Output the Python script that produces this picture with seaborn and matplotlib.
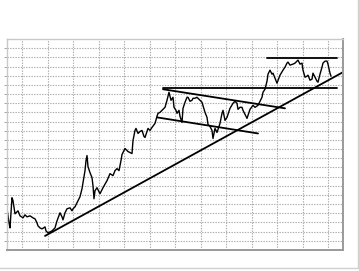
import numpy as np
import pandas as pd
import seaborn as sns
import matplotlib
matplotlib.use("Agg")
import matplotlib.pyplot as plt
from matplotlib.lines import Line2D

# ---- data ----
day = [0,2,3,5,6,8,11,13,16,18,
       20,23,26,28,30,31,33,35,38,39,
       41,43,45,48,50,53,55,56,58,60,
       63,65,66,68,70,71,73,75,76,78,
       79,80,81,83,85,86,87,88,90,93,
       95,96,100,103,106,108,110,112,114,115,
       118,120,121,123,125,126,128,129,131,133,
       135,137,138,141,143,145,148,150,151,153,
       155,158,160,162,164,166,167,169,170,172,
       173,175,176,178,180,181,183,185,186,188,
       190,191,193,195,198,200,201,203,205,206,
       208,210,213,215,216,218,220,223,226,228,
       230,231,233,235,236,238,240,243,246,248,
       251,253,255,256,258,260,261,263,265,266,
       268,270,273,276,278,280,281,283,286,288,
       290,291,293,295,296,298,300,301,303,305,
       306,308,310,311,313,315,316,318,320,321,
       323,324]
price = [41,27,22,52,49,36,39,34,32,35,
         33,34,32,31,27,24,22,21,23,19,
         17,18,19,22,29,37,33,30,37,41,
         42,39,41,43,47,49,53,61,67,79,
         89,94,83,77,72,64,51,59,62,56,
         60,62,69,76,74,79,81,79,89,95,
         101,99,98,97,96,109,119,121,116,118,
         119,113,112,121,119,122,126,133,136,137,
         139,142,149,157,149,152,142,139,136,139,
         133,127,141,147,152,152,148,149,151,151,
         152,151,149,147,137,132,125,123,119,111,
         121,117,126,136,139,129,132,141,146,148,
         146,140,142,142,139,135,131,140,144,142,
         144,148,152,157,160,168,175,179,175,176,
         171,166,174,179,182,186,187,184,185,186,
         188,189,185,186,179,172,173,174,169,170,
         176,172,168,167,175,182,186,188,188,185,
         176,173]

# trend lines (start/end day, start/end price)
trend_day = [[38, 336], [260, 330], [156, 330], [156, 278], [150, 251]]
trend_price = [[14, 177], [191, 191], [161, 161], [160, 141], [132, 116]]

df = pd.DataFrame({"day": day, "price": price})

sns.set_style("white")
fig = plt.figure(figsize=(3.59, 2.71), dpi=100)
ax = fig.add_axes([7/359, 21/271, 336/359, 211/271])

sns.lineplot(data=df, x="day", y="price", ax=ax, color="black",
             linewidth=1.0, estimator=None, sort=False)
for td, tp in zip(trend_day, trend_price):
    sns.lineplot(x=td, y=tp, ax=ax, color="black", linewidth=1.3,
                 estimator=None, sort=False)

ax.set_xlim(0, 336)
ax.set_ylim(0, 210)
ax.set_xticks([15 + 25.5 * k for k in range(13)])
ax.set_yticks(np.linspace(0, 210, 24)[1:-1])
ax.grid(True, color="#aaaaaa", linestyle=(0, (1.2, 1.2)), linewidth=0.8)
ax.set_axisbelow(True)
ax.set_xlabel("")
ax.set_ylabel("")
ax.set_xticklabels([])
ax.set_yticklabels([])
ax.tick_params(axis="x", length=0)
ax.tick_params(axis="y", length=2, width=0.6, color="#999999", direction="out", left=True)
for side in ["top", "left"]:
    ax.spines[side].set_color("#c8c8c8")
    ax.spines[side].set_linewidth(1.0)
for side in ["right", "bottom"]:
    ax.spines[side].set_color("#9a9a9a")
    ax.spines[side].set_linewidth(1.4)

# thin frame lines at right and bottom of the picture
fig.add_artist(Line2D([357.5/359, 357.5/359], [3/271, 1], color="#d0d0d0", linewidth=1.0))
fig.add_artist(Line2D([0, 357.5/359], [3/271, 3/271], color="#d0d0d0", linewidth=1.0))

fig.savefig("out.png", dpi=100)
